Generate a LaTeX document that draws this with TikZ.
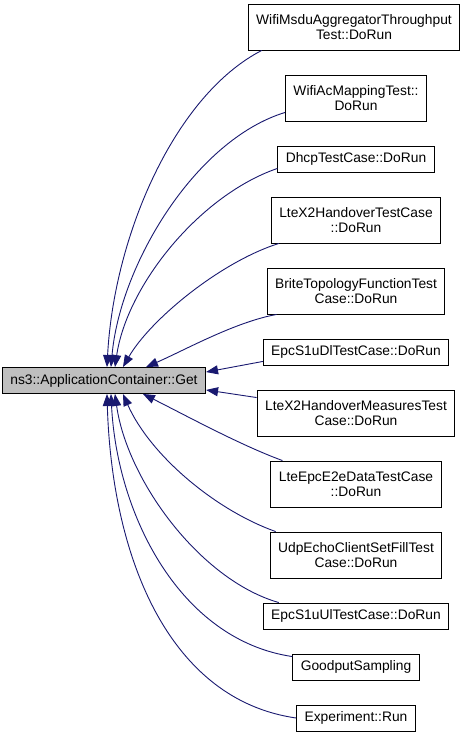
\documentclass[tikz,border=0pt]{standalone}
\usepackage{fontspec}
\setmainfont{Liberation Sans}
\definecolor{edgeBlue}{HTML}{191970}
\definecolor{nodeGray}{HTML}{BFBFBF}
\usetikzlibrary{arrows.meta}

\begin{document}
\begin{tikzpicture}[x=1pt, y=-1pt,
    every node/.style={font=\fontsize{13.8}{15.5}\selectfont},
    fnbox/.style={draw=black, fill=white, line width=0.9pt, align=center,
      inner xsep=8pt, inner ysep=1pt, minimum height=26pt},
    twoline/.style={fnbox, minimum height=46pt},
    callee/.style={fnbox, fill=nodeGray, minimum width=200pt},
    calledge/.style={{Triangle[length=12pt,width=9pt]}-, line width=0.9pt, edgeBlue}]
  \useasboundingbox (0,0) rectangle (464,739);

  % Function that is called
  \node[callee] (get) at (104,380.5) {ns3::ApplicationContainer::Get};

  % Callers
  \node[twoline] (msdu) at (354,27) {WifiMsduAggregatorThroughput\\Test::DoRun};
  \node[twoline] (acmap) at (356,98) {WifiAcMappingTest::\\DoRun};
  \node[fnbox] (dhcp) at (356,159) {DhcpTestCase::DoRun};
  \node[twoline] (x2ho) at (356,220) {LteX2HandoverTestCase\\::DoRun};
  \node[twoline] (brite) at (356,291) {BriteTopologyFunctionTest\\Case::DoRun};
  \node[fnbox] (s1udl) at (356,352) {EpcS1uDlTestCase::DoRun};
  \node[twoline] (x2meas) at (356,413) {LteX2HandoverMeasuresTest\\Case::DoRun};
  \node[twoline] (e2e) at (356,484) {LteEpcE2eDataTestCase\\::DoRun};
  \node[twoline] (udpfill) at (356,555) {UdpEchoClientSetFillTest\\Case::DoRun};
  \node[fnbox] (s1uul) at (356,616) {EpcS1uUlTestCase::DoRun};
  \node[fnbox] (goodput) at (356,667) {GoodputSampling};
  \node[fnbox] (expt) at (356,718) {Experiment::Run};

  % Calls, arrow heads at the callee
  \draw[calledge] ([xshift=105pt]get.north west) .. controls (114,235) and (175,95) .. ([xshift=14pt]msdu.south west);
  \draw[calledge] ([xshift=109pt]get.north west) .. controls (120,265) and (195,140) .. ([yshift=9pt]acmap.south west);
  \draw[calledge] ([xshift=113pt]get.north west) .. controls (127,285) and (200,195) .. ([yshift=4pt]dhcp.south west);
  \draw[calledge] ([xshift=121pt]get.north west) .. controls (150,320) and (220,262) .. ([xshift=8pt]x2ho.south west);
  \draw[calledge] ([xshift=144pt]get.north west) .. controls (185,350) and (235,322) .. ([xshift=10pt]brite.south west);
  \draw[calledge] ([yshift=-5pt]get.north east) -- ([yshift=4pt]s1udl.south west);
  \draw[calledge] ([yshift=4pt]get.south east) -- ([yshift=-8pt]x2meas.north west);
  \draw[calledge] ([xshift=141pt]get.south west) .. controls (185,415) and (240,445) .. ([xshift=12pt]e2e.north west);
  \draw[calledge] ([xshift=121pt]get.south west) .. controls (150,455) and (215,510) .. ([xshift=6pt]udpfill.north west);
  \draw[calledge] ([xshift=113pt]get.south west) .. controls (127,480) and (200,580) .. ([xshift=16pt]s1uul.north west);
  \draw[calledge] ([xshift=109pt]get.south west) .. controls (117,515) and (180,640) .. ([yshift=-3pt]goodput.north west);
  \draw[calledge] ([xshift=105pt]get.south west) .. controls (112,560) and (170,700) .. (expt.west);
\end{tikzpicture}
\end{document}
